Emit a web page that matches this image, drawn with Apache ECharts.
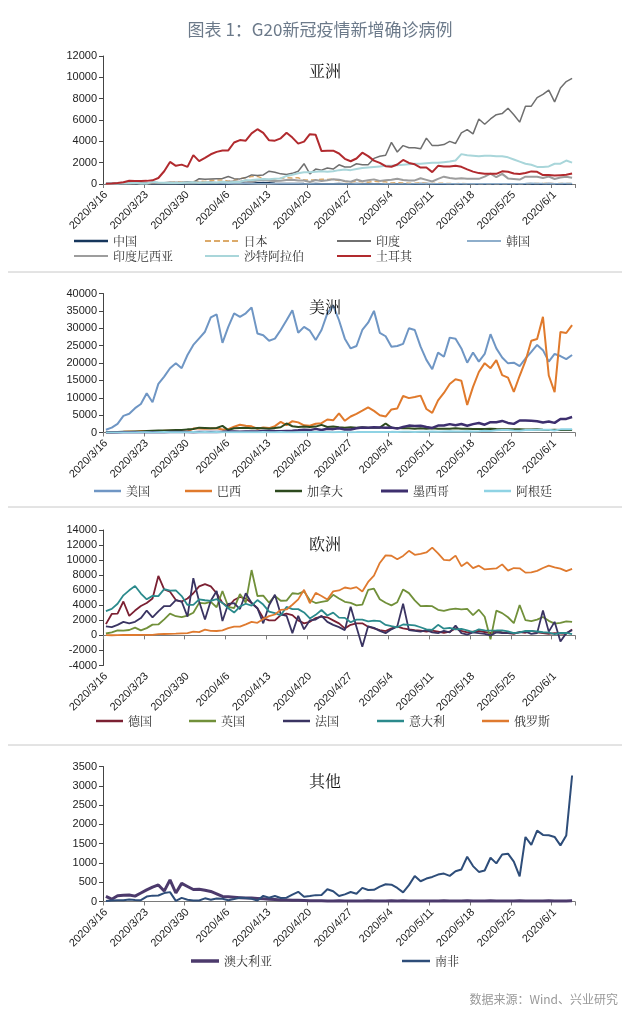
<!DOCTYPE html>
<html><head><meta charset="utf-8">
<script src="https://cdn.jsdelivr.net/npm/echarts@6/dist/echarts.min.js"></script>
<style>html,body{margin:0;padding:0;background:#fff}#c{width:640px;height:1020px}</style>
</head><body><div id="c"></div>
<script>
const dates = ["2020/3/16","2020/3/17","2020/3/18","2020/3/19","2020/3/20","2020/3/21","2020/3/22","2020/3/23","2020/3/24","2020/3/25","2020/3/26","2020/3/27","2020/3/28","2020/3/29","2020/3/30","2020/3/31",
"2020/4/1","2020/4/2","2020/4/3","2020/4/4","2020/4/5","2020/4/6","2020/4/7","2020/4/8","2020/4/9","2020/4/10","2020/4/11","2020/4/12","2020/4/13","2020/4/14","2020/4/15","2020/4/16","2020/4/17","2020/4/18","2020/4/19","2020/4/20","2020/4/21","2020/4/22","2020/4/23","2020/4/24","2020/4/25","2020/4/26","2020/4/27","2020/4/28","2020/4/29","2020/4/30",
"2020/5/1","2020/5/2","2020/5/3","2020/5/4","2020/5/5","2020/5/6","2020/5/7","2020/5/8","2020/5/9","2020/5/10","2020/5/11","2020/5/12","2020/5/13","2020/5/14","2020/5/15","2020/5/16","2020/5/17","2020/5/18","2020/5/19","2020/5/20","2020/5/21","2020/5/22","2020/5/23","2020/5/24","2020/5/25","2020/5/26","2020/5/27","2020/5/28","2020/5/29","2020/5/30","2020/5/31",
"2020/6/1","2020/6/2","2020/6/3","2020/6/4"];

// ---- Asia ----
const china = [21,13,34,39,41,46,39,78,47,67,55,54,45,31,48,36,35,31,19,30,39,32,62,63,42,46,99,108,89,46,26,27,26,16,12,11,30,10,10,6,12,11,3,22,4,12,2,1,2,3,1,2,4,1,14,17,1,7,3,4,5,7,6,5,6,2,4,0,3,11,7,1,2,2,4,4,16,2,5,1,5];
const japan = [15,40,44,39,52,35,43,39,65,94,96,123,201,173,87,225,266,235,351,368,383,252,351,503,579,708,714,507,284,457,546,585,570,585,370,375,376,450,430,435,330,240,180,270,220,168,260,200,200,90,120,100,70,80,110,50,40,80,60,40,30,40,30,30,30,20,30,30,25,20,20,25,30,40,45,50,40,35,45,40,40];
const india = [15,20,25,30,50,60,70,80,90,100,90,80,150,110,220,150,500,450,480,500,520,700,500,480,600,850,800,850,1200,1100,950,900,1000,1200,1900,950,1400,1300,1500,1400,1800,1600,1600,1900,1800,1800,2400,2600,2700,3900,3000,3600,3400,3400,3300,4300,3600,3600,3700,4000,3800,4800,5100,4700,6100,5600,6100,6500,6600,7100,6500,5800,7300,7300,8100,8400,8800,7700,9000,9600,9900];
const korea = [74,84,93,152,87,147,98,64,76,100,104,91,146,105,78,125,101,89,86,94,81,47,47,53,39,27,30,32,25,27,27,22,22,18,8,13,9,11,8,6,10,10,10,14,9,4,9,6,13,8,3,2,4,12,18,34,35,27,26,29,27,19,13,15,13,32,12,20,23,25,16,19,40,79,58,39,27,35,38,49,39];
const indonesia = [17,38,55,82,60,81,64,65,106,105,103,153,109,130,129,114,149,113,196,106,181,218,247,218,337,219,330,399,316,282,297,380,407,325,327,185,375,283,357,436,396,275,214,415,260,347,433,292,349,395,484,367,338,336,533,387,233,484,689,568,490,529,489,496,486,693,973,634,949,526,479,415,686,687,678,557,700,467,609,684,585];
const saudi = [15,20,40,65,70,120,50,50,200,130,110,90,100,100,150,160,110,165,140,140,200,140,190,190,360,380,430,470,435,490,520,760,860,1000,1100,1100,1150,1200,1150,1200,1300,1350,1300,1400,1500,1550,1600,1650,1700,1700,1750,1800,1850,1900,1900,1950,2000,2000,2050,2100,2200,2800,2700,2650,2600,2650,2650,2600,2600,2500,2300,2100,1900,1800,1600,1600,1650,1900,1900,2200,2000];
const turkey = [29,51,93,168,311,277,289,293,343,561,1196,2069,1704,1815,1610,2704,2148,2456,2786,3013,3135,3148,3892,4117,4056,4747,5138,4789,4093,4062,4281,4801,4353,3783,3977,4674,4611,3083,3116,3122,2861,2357,2131,2392,2936,2615,2188,1983,1670,1614,1832,2253,1977,1848,1546,1542,1114,1704,1639,1635,1708,1610,1368,1158,1022,972,961,952,1186,1141,987,948,1035,1182,1141,839,839,786,827,867,988];

// ---- Americas ----
const usa = [800,1400,2500,4800,5400,7000,8200,11300,8700,14000,16100,18500,19900,18500,22300,25200,27100,29000,33100,34000,25800,30400,34300,33300,34300,36000,28500,28000,26400,27000,29500,32300,35200,28700,30400,29300,26600,29500,34300,36600,32300,27000,24200,24900,29500,31600,35000,28700,27700,24700,24900,25500,30000,29500,24700,20900,18200,23000,21800,27300,27000,24200,20100,23000,20400,22600,28300,24200,21600,19900,20100,19100,21300,23200,25200,23700,20400,22600,22000,21100,22300];
const brazil = [57,57,137,193,283,224,418,345,310,232,482,502,487,352,323,1138,1119,1074,1146,1222,852,926,1661,2210,1930,1781,1089,1442,1261,1832,3058,2105,3257,2917,2055,1927,2498,2678,3735,3503,5514,3379,4613,5385,6276,7218,6209,4970,4588,6633,6935,10503,9888,10222,10611,6760,5632,9258,11385,13944,15305,14919,7938,13140,17408,19951,18508,20803,16508,15813,11687,16324,20599,26417,26928,33274,16409,11598,28936,28633,30925];
const canada = [50,100,150,200,250,300,300,450,500,550,600,650,700,750,900,1000,1400,1300,1200,1300,1900,700,1200,1300,1400,1200,1300,1200,1100,1300,1500,2600,1800,1600,1700,1600,1700,2200,1600,1700,1500,1400,1500,1400,1500,1400,1400,1400,2600,1400,1300,1200,1200,1100,1200,1100,1200,1100,1100,1100,1200,1100,1100,1000,1000,1000,1100,1000,950,900,900,900,850,850,900,800,750,800,700,750,700];
const mexico = [29,11,25,46,46,39,48,65,51,38,70,110,132,131,145,101,163,121,132,178,202,296,296,233,260,253,311,450,442,396,371,448,491,622,764,685,1043,729,1089,970,1239,835,852,1223,1425,1349,1515,1447,1349,1434,1120,1609,1982,1906,1938,1562,1305,1997,1992,2409,2112,2437,1938,2414,2713,2248,2973,2960,3329,2764,2483,3455,3463,3377,3227,2885,3152,2771,3891,3912,4442];
const argentina = [11,9,14,18,31,30,41,36,35,86,115,87,101,55,75,146,88,132,98,139,88,74,74,89,105,81,82,167,98,67,138,77,60,73,70,112,144,124,157,102,173,111,99,111,158,143,111,164,122,180,165,210,240,163,212,190,260,244,316,345,308,285,348,285,351,474,436,648,723,702,552,535,718,703,795,765,795,564,904,949,929];

// ---- Europe ----
const germany = [1500,2850,2900,4500,2600,3300,3900,4300,4900,7900,6100,5800,4700,4500,4900,5600,6500,6800,6500,5600,4300,3800,4700,5100,4900,4300,3600,2300,2000,2000,2700,2900,2700,2000,1600,1800,2300,2500,2400,2000,1600,930,1400,1600,1600,1150,930,700,580,930,1150,930,800,700,620,490,620,490,350,490,930,600,400,500,600,450,300,600,400,300,200,450,350,600,400,300,200,300,250,200,800];
const uk = [250,407,676,643,714,1035,665,967,1427,1452,2129,2885,2546,2433,2619,3009,4324,4244,4450,3735,5903,3802,3634,5491,4344,8681,5233,5288,4342,5252,4603,4617,5599,5525,5850,4676,4301,4451,4583,5386,4913,4463,4309,3996,4076,6032,6201,4806,4339,3985,4406,6111,5614,4649,3896,3923,3877,3403,3242,3446,3560,3451,3534,2684,3412,2472,-525,3287,2959,2409,1625,4043,2013,1887,2095,2445,1936,1570,1653,1871,1805];
const france = [1200,1100,1400,1800,1600,1800,2300,3300,2400,3200,3900,3900,4700,4500,2500,7600,4500,2100,4600,5900,1900,4200,4300,3500,5600,4300,3600,1600,4000,5400,2800,2600,300,2600,800,2000,2100,2600,1800,1400,1100,700,3800,1100,-1500,1200,1000,600,300,800,1200,4200,700,600,500,700,400,300,600,400,1300,300,100,400,300,200,0,400,300,300,300,400,500,200,300,3300,500,1800,-800,300,700];
const italy = [3233,3526,4207,5322,5986,6557,5560,4789,5249,5210,6153,5959,5974,5217,4050,4053,4782,4668,4585,4805,4316,3599,3039,3836,4204,3951,4694,4092,3153,2972,2667,3786,3493,3491,3047,2256,2729,3370,2646,3021,2357,2324,1739,2091,2086,1872,1965,1900,1389,1221,1075,1444,1401,1327,1083,802,744,1402,888,992,789,875,675,451,813,665,642,652,669,531,300,397,584,593,516,416,355,178,318,321,177];
const russia = [30,21,33,52,54,53,61,71,57,163,182,196,228,270,302,501,440,771,601,582,658,954,1154,1175,1459,1786,1667,2186,2558,2774,3388,3448,4070,4785,6060,4268,5642,5236,4774,5849,5966,6361,6198,6411,5841,7099,7933,9623,10633,10581,10102,10559,11231,10699,10817,11012,11656,10899,10028,9974,10598,9200,9709,8926,9263,8764,8849,8894,9434,8599,8946,8915,8338,8371,8572,8952,9268,9035,8863,8536,8831];

// ---- Others ----
const australia = [130,60,150,160,170,140,220,300,370,430,270,560,220,470,390,310,320,290,260,200,130,120,110,100,90,90,80,70,60,50,40,40,30,30,25,20,20,20,15,15,20,15,15,10,15,20,15,10,15,20,15,20,15,10,15,15,10,15,20,15,10,15,20,15,10,15,20,15,10,15,15,20,10,15,15,10,20,15,10,15,20];
const southAfrica = [11,23,31,34,52,38,34,128,152,155,218,243,17,93,46,27,27,82,43,80,70,31,63,96,89,69,25,145,99,143,91,99,178,251,124,142,165,170,318,267,141,185,247,203,354,297,304,385,447,437,352,236,424,663,525,595,637,698,724,665,785,831,1160,918,767,803,1134,988,1218,1240,1032,649,1673,1466,1837,1727,1716,1674,1455,1713,3267];

const mainTitle = '图表 1：G20新冠疫情新增确诊病例';
const panelTitles = ['亚洲', '美洲', '欧洲', '其他'];
const sourceText = '数据来源：Wind、兴业研究';

const CJK = '"Noto Serif CJK SC", "Noto Sans CJK SC", serif';
const LAT = '"Liberation Sans", Arial, sans-serif';

const grids = [
  {left:103, top:56,    width:472, height:128},
  {left:103, top:293.5, width:472, height:139},
  {left:103, top:530,   width:472, height:135.5},
  {left:103, top:766.5, width:472, height:135}
].map(g => Object.assign({outerBoundsMode:'none', containLabel:false}, g));

function xAx(g, extra) {
  return Object.assign({
    type:'category', gridIndex:g, data:dates, boundaryGap:true, position:'bottom',
    axisLine:{show:true, onZero:false, lineStyle:{color:'#7a7a7a', width:1}},
    axisTick:{show:true, interval:6, length:4, lineStyle:{color:'#7a7a7a'}},
    axisLabel:{interval:6, rotate:45, fontSize:11, color:'#222', fontFamily:LAT, margin:9, hideOverlap:false},
    splitLine:{show:false}
  }, extra || {});
}
function yAx(g, min, max, interval) {
  return {type:'value', gridIndex:g, min, max, interval,
    axisLine:{show:true, lineStyle:{color:'#444'}},
    axisTick:{show:true, length:4, lineStyle:{color:'#444'}},
    axisLabel:{fontSize:11, color:'#222', fontFamily:LAT, margin:6, formatter: v => String(v)},
    splitLine:{show:false}};
}

const xAxes = [
  xAx(0), xAx(1),
  xAx(2, {axisLine:{show:false}, axisTick:{show:false}}),
  xAx(3),
  xAx(2, {axisLine:{show:true, onZero:true, onZeroAxisIndex:2, lineStyle:{color:'#7a7a7a'}}, axisLabel:{show:false}})
];
const yAxes = [yAx(0,0,12000,2000), yAx(1,0,40000,5000), yAx(2,-4000,14000,2000), yAx(3,0,3500,500)];

function ln(name, data, p, color, width, dashed) {
  return {type:'line', name, data, xAxisIndex:p, yAxisIndex:p, symbol:'none', showSymbol:false,
    lineStyle:{color, width, type: dashed ? [5,3] : 'solid'}, itemStyle:{color}, emphasis:{disabled:true}, z:2};
}

const series = [
  ln('中国', china, 0, '#16365c', 2),
  ln('日本', japan, 0, '#dcaa6a', 1.5, true),
  ln('印度', india, 0, '#6f6f6f', 1.5),
  ln('韩国', korea, 0, '#8eaecb', 1.5),
  ln('印度尼西亚', indonesia, 0, '#9d9d9d', 2),
  ln('沙特阿拉伯', saudi, 0, '#a9d6da', 2),
  ln('土耳其', turkey, 0, '#b12a2e', 2),
  ln('美国', usa, 1, '#6f96c4', 2),
  ln('巴西', brazil, 1, '#e07a2c', 2),
  ln('加拿大', canada, 1, '#2d4a1e', 2),
  ln('墨西哥', mexico, 1, '#3d2f6e', 2.5),
  ln('阿根廷', argentina, 1, '#8fd3e4', 2),
  ln('德国', germany, 2, '#7b2032', 1.8),
  ln('英国', uk, 2, '#71903a', 1.8),
  ln('法国', france, 2, '#3a3462', 1.8),
  ln('意大利', italy, 2, '#2b8a8c', 1.8),
  ln('俄罗斯', russia, 2, '#df7a2f', 1.8),
  ln('澳大利亚', australia, 3, '#4c3a6c', 3),
  ln('南非', southAfrica, 3, '#2e4d79', 2)
];

const DASH_ICON = 'path://M0,0h6v2h-6z M9,0h6v2h-6z M18,0h6v2h-6z M27,0h6v2h-6z';
// [name, left, centerY, iconWidth, iconThickness, dashed]
const legendSpots = [
  ['中国',74,242,34,2.5],['日本',205,242,34,2,true],['印度',337,242,34,2],['韩国',467,242,34,2],
  ['印度尼西亚',74,257,34,2],['沙特阿拉伯',205,257,34,2],['土耳其',337,257,34,2],
  ['美国',94,492,27,2.5],['巴西',185,492,27,2.5],['加拿大',275,492,27,2.5],['墨西哥',381,492,27,3],['阿根廷',484,492,27,2.5],
  ['德国',96,722,27,2.5],['英国',189,722,27,2.5],['法国',283,722,27,2.5],['意大利',377,722,27,2.5],['俄罗斯',482,722,27,2.5],
  ['澳大利亚',191,962,28,3.5],['南非',402,962,28,2.5]
];
const legends = legendSpots.map(([n,l,cy,w,h,d]) => ({
  data:[n], left:l, top:cy - 7, itemWidth:w, itemHeight:h, padding:0, selectedMode:false,
  icon: d ? DASH_ICON : 'rect',
  textStyle:{fontSize:12, color:'#333', fontFamily:CJK}
}));

const panelTitleTops = [58, 294, 531, 768];
const titles = [{text:mainTitle, left:'center', top:16, textStyle:{fontSize:17, color:'#6c7a8a', fontWeight:'normal', fontFamily:'"Noto Sans CJK SC", sans-serif'}}]
  .concat(panelTitles.map((t,i) => ({text:t, left:304, top:panelTitleTops[i], textStyle:{fontSize:16, color:'#111', fontWeight:'normal', fontFamily:CJK}})));

const chart = echarts.init(document.getElementById('c'), null, {renderer:'canvas', width:640, height:1020});
chart.setOption({
  animation:false,
  backgroundColor:'#fff',
  title:titles,
  grid:grids,
  xAxis:xAxes,
  yAxis:yAxes,
  legend:legends,
  series:series,
  graphic:[
    {type:'line', shape:{x1:8,y1:272,x2:622,y2:272}, style:{stroke:'#c8c8c8', lineWidth:1}},
    {type:'line', shape:{x1:8,y1:507,x2:622,y2:507}, style:{stroke:'#c8c8c8', lineWidth:1}},
    {type:'line', shape:{x1:8,y1:745,x2:622,y2:745}, style:{stroke:'#c8c8c8', lineWidth:1}},
    {type:'text', right:22, top:993, style:{text:sourceText, fill:'#999', font:'12px "Noto Sans CJK SC", sans-serif'}}
  ]
});
</script></body></html>
